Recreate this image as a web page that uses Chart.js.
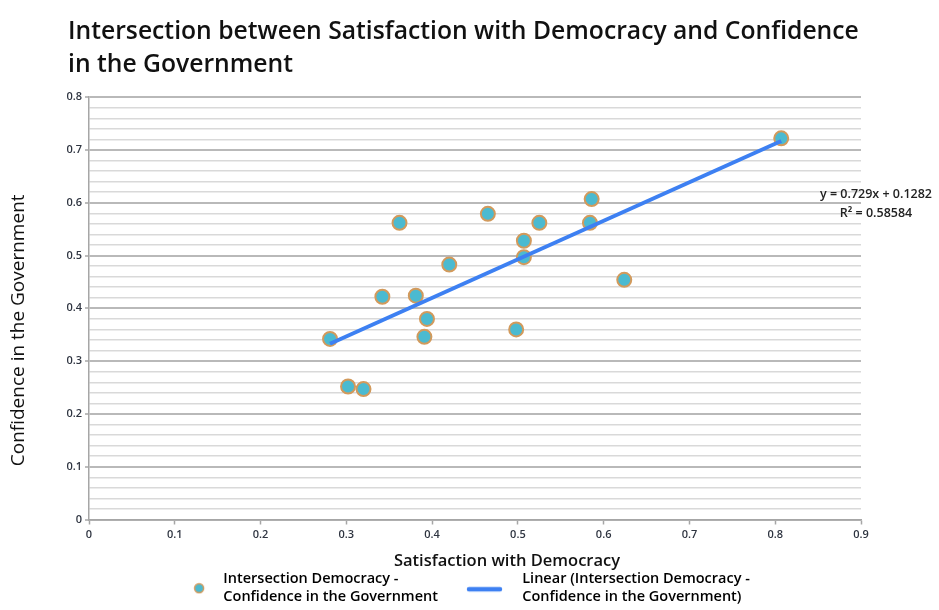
<!DOCTYPE html>
<html><head><meta charset="utf-8">
<script src="https://cdn.jsdelivr.net/npm/chart.js@4"></script>
<style>html,body{margin:0;padding:0;background:#fff}</style>
</head><body>
<canvas id="c" width="939" height="610"></canvas>
<script>
// ---- data ----
const titleLines = ['Intersection between Satisfaction with Democracy and Confidence', 'in the Government'];
const xAxisTitle = 'Satisfaction with Democracy';
const yAxisTitle = 'Confidence in the Government';
const seriesName = 'Intersection Democracy - Confidence in the Government';
const trendName = 'Linear (Intersection Democracy - Confidence in the Government)';
const legendLines1 = ['Intersection Democracy -', 'Confidence in the Government'];
const legendLines2 = ['Linear (Intersection Democracy -', 'Confidence in the Government)'];
const satisfaction = [0.281, 0.302, 0.320, 0.342, 0.362, 0.381, 0.394, 0.391, 0.420, 0.465, 0.498, 0.507, 0.507, 0.525, 0.586, 0.584, 0.624, 0.807];
const confidence   = [0.342, 0.252, 0.247, 0.422, 0.562, 0.424, 0.380, 0.346, 0.483, 0.579, 0.360, 0.528, 0.497, 0.562, 0.607, 0.562, 0.454, 0.722];
const trendX = [0.281, 0.807];
const trendY = [0.333, 0.717];
const xTickLabels = ['0', '0.1', '0.2', '0.3', '0.4', '0.5', '0.6', '0.7', '0.8', '0.9'];
const yTickLabels = ['0', '0.1', '0.2', '0.3', '0.4', '0.5', '0.6', '0.7', '0.8'];
const equationLines = ['y = 0.729x + 0.1282', 'R\u00B2 = 0.58584'];

// ---- styles ----
const FONT = 'Open Sans';
const pointFill = '#4bbad0';
const pointBorder = '#d29a5c';
const lineBlue = '#3d80f2';
const tickColor = '#2e3440';

// multi-line legend labels: measure the longest line
const _measure = CanvasRenderingContext2D.prototype.measureText;
CanvasRenderingContext2D.prototype.measureText = function (t) {
  if (Array.isArray(t)) {
    let best = _measure.call(this, '');
    for (const s of t) { const m = _measure.call(this, s); if (m.width > best.width) best = m; }
    return best;
  }
  return _measure.call(this, t);
};

function makeMarker(kind) {
  const c = document.createElement('canvas');
  c.width = 60; c.height = 30;
  const g = c.getContext('2d');
  if (kind === 'circle') {
    g.beginPath(); g.arc(43, 24, 4.5, 0, Math.PI * 2);
    g.fillStyle = pointFill; g.fill();
    g.lineWidth = 1.5; g.strokeStyle = pointBorder; g.stroke();
  } else {
    g.beginPath(); g.moveTo(14, 25); g.lineTo(45, 25);
    g.lineWidth = 4.5; g.lineCap = 'round'; g.strokeStyle = lineBlue; g.stroke();
  }
  return c;
}
const markerCircle = makeMarker('circle');
const markerLine = makeMarker('line');

const tweaks = {
  id: 'tweaks',
  beforeLayout(chart) {
    const lg = chart.legend;
    if (lg && !lg._patched) {
      const f = lg.fit;
      lg.fit = function () { f.call(this); this.height = 55; };
      lg._patched = true;
    }
  },
  afterLayout(chart) {
    if (chart.titleBlock) chart.titleBlock.left = 68;
    if (chart.legend) chart.legend.left += 40;
    const xs = chart.scales.x, ys = chart.scales.y;
    if (!xs._patched) {
      const o = xs.drawTitle;
      xs.drawTitle = function () { const c = this.ctx; c.save(); c.translate(32, 20); o.call(this); c.restore(); };
      xs._patched = true;
    }
    if (!ys._patched) {
      const o = ys.drawTitle;
      ys.drawTitle = function () { const c = this.ctx; c.save(); c.translate(0, 22); o.call(this); c.restore(); };
      ys._patched = true;
    }
  },
  afterDraw(chart) {
    const ctx = chart.ctx;
    const a = chart.chartArea;
    const ys = chart.scales.y;
    ctx.save();
    ctx.font = '600 12.5px "' + FONT + '"';
    ctx.fillStyle = '#222';
    ctx.textAlign = 'center';
    ctx.textBaseline = 'middle';
    const cx = a.right + 15;
    const y0 = ys.getPixelForValue(0.6) - 8;
    ctx.fillText(equationLines[0], cx, y0);
    ctx.fillText(equationLines[1], cx, y0 + 19);
    ctx.restore();
  }
};

new Chart(document.getElementById('c'), {
  type: 'scatter',
  data: {
    datasets: [
      {
        type: 'line',
        label: trendName,
        data: trendX.map((x, i) => ({ x, y: trendY[i] })),
        borderColor: lineBlue,
        borderWidth: 4,
        pointRadius: 0,
        fill: false,
        order: 0
      },
      {
        label: seriesName,
        data: satisfaction.map((x, i) => ({ x, y: confidence[i] })),
        backgroundColor: pointFill,
        borderColor: pointBorder,
        borderWidth: 2,
        pointRadius: 7,
        order: 1
      }
    ]
  },
  options: {
    responsive: false,
    animation: false,
    devicePixelRatio: 1,
    layout: { padding: { left: 5, right: 78, top: 0, bottom: 0 } },
    plugins: {
      tooltip: { enabled: false },
      title: {
        display: true,
        text: titleLines,
        align: 'start',
        color: '#111',
        font: { family: FONT, size: 24.7, weight: '600', lineHeight: 1.34 },
        padding: { top: 15, bottom: 16 }
      },
      legend: {
        position: 'bottom',
        labels: {
          usePointStyle: true,
          pointStyleWidth: 60,
          padding: 17,
          color: '#1a1a1a',
          font: { family: FONT, size: 14.5, weight: '600', lineHeight: 1.24 },
          generateLabels() {
            return [
              { text: legendLines1, pointStyle: markerCircle, fillStyle: pointFill, strokeStyle: pointBorder, lineWidth: 0, datasetIndex: 1, hidden: false },
              { text: legendLines2, pointStyle: markerLine, fillStyle: lineBlue, strokeStyle: lineBlue, lineWidth: 0, datasetIndex: 0, hidden: false }
            ];
          }
        }
      }
    },
    scales: {
      x: {
        type: 'linear',
        min: 0, max: 0.9,
        afterFit(s) { s.height = 35.5; },
        ticks: {
          stepSize: 0.1,
          autoSkip: false,
          maxRotation: 0,
          padding: 4,
          color: tickColor,
          font: { family: FONT, size: 11, weight: '600' },
          callback: (v, i) => xTickLabels[i]
        },
        grid: { drawOnChartArea: false, drawTicks: true, tickLength: 5, tickColor: '#a6a6a6', tickWidth: 1.5 },
        border: { color: '#a6a6a6', width: 1.5 },
        title: {
          display: true, text: xAxisTitle, color: '#111',
          font: { family: FONT, size: 16.5, weight: '600', lineHeight: 1.2 },
          padding: { top: 4, bottom: 4 }
        }
      },
      y: {
        type: 'linear',
        min: 0, max: 0.8,
        afterFit(s) { s.width = 84; },
        ticks: {
          stepSize: 0.02,
          autoSkip: false,
          padding: 3,
          color: tickColor,
          font: { family: FONT, size: 11, weight: '600' },
          callback: (v, i) => (i % 5 === 0 ? yTickLabels[i / 5] : '')
        },
        grid: {
          drawTicks: true,
          tickLength: 4,
          color: (c) => (c.index % 5 === 0 ? '#b9b9b9' : '#d9d9d9'),
          lineWidth: (c) => (c.index % 5 === 0 ? 2 : 1.5),
          tickColor: (c) => (c.index % 5 === 0 ? '#a6a6a6' : 'rgba(0,0,0,0)'),
          tickWidth: 1.5
        },
        border: { color: '#a6a6a6', width: 1.5 },
        title: {
          display: true, text: yAxisTitle, color: '#111',
          font: { family: FONT, size: 19, weight: '500', lineHeight: 1.2 },
          padding: { top: 2, bottom: 0 }
        }
      }
    }
  },
  plugins: [tweaks]
});
</script>
</body></html>
